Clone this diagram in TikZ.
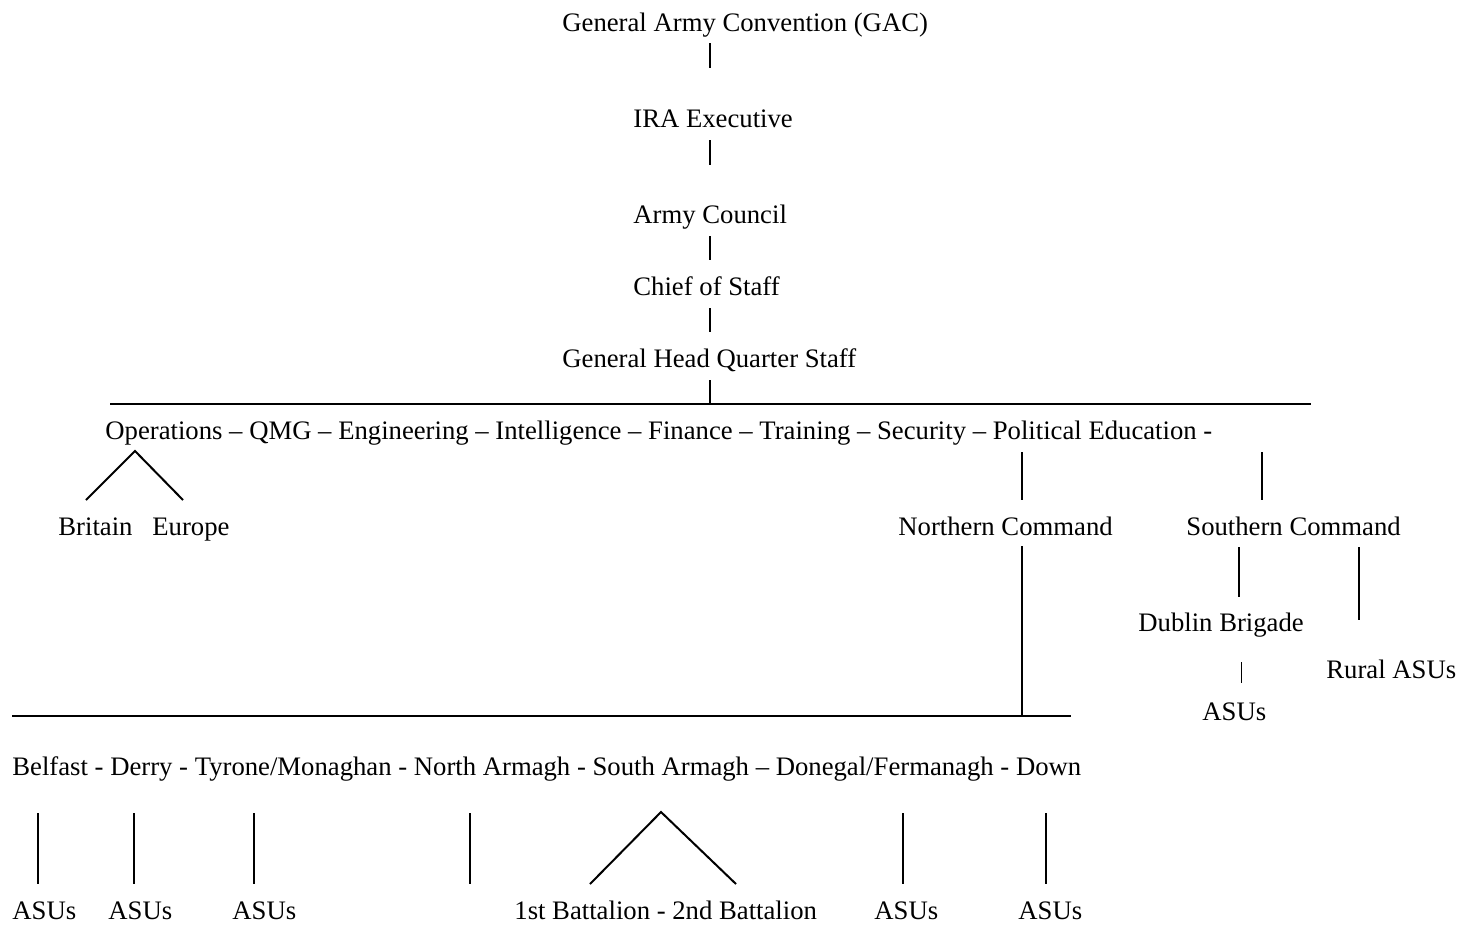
\documentclass[tikz,border=0pt]{standalone}
\usepackage{fontspec}
\setmainfont{Liberation Serif}
\begin{document}
\begin{tikzpicture}[x=0.5pt,y=-0.5pt,font=\fontsize{13.35}{16}\selectfont,
		lbl/.style={anchor=base west,inner sep=0pt},
		link/.style={line width=1pt},
		thinlink/.style={line width=0.5pt}]
			\useasboundingbox (0,0) rectangle (1461,927);
			% top of the chain
			\node[lbl] (gac) at (562,31) {General Army Convention (GAC)};
			\node[lbl] (exec) at (633,127) {IRA Executive};
			\node[lbl] (council) at (633,223) {Army Council};
			\node[lbl] (chief) at (633,295) {Chief of Staff};
			\node[lbl] (ghq) at (562,367) {General Head Quarter Staff};
			\node[lbl] (depts) at (105,439) {Operations -- QMG -- Engineering -- Intelligence -- Finance -- Training -- Security -- Political Education -};
			\node[lbl] (britain) at (58,535) {Britain};
			\node[lbl] (europe) at (152,535) {Europe};
			\node[lbl] (north) at (898,535) {Northern Command};
			\node[lbl] (south) at (1186,535) {Southern Command};
			\node[lbl] (dublin) at (1138,631) {Dublin Brigade};
			\node[lbl] (rural) at (1326,678) {Rural ASUs};
			\node[lbl] (dublinasu) at (1202,720) {ASUs};
			\node[lbl] (brigades) at (12,775) {Belfast - Derry - Tyrone/Monaghan - North Armagh - South Armagh -- Donegal/Fermanagh - Down};
			\node[lbl] (asuA) at (12,919) {ASUs};
			\node[lbl] (asuB) at (108,919) {ASUs};
			\node[lbl] (asuC) at (232,919) {ASUs};
			\node[lbl] (batt) at (514,919) {1st Battalion - 2nd Battalion};
			\node[lbl] (asuD) at (874,919) {ASUs};
			\node[lbl] (asuE) at (1018,919) {ASUs};
			% end points of the links
			\coordinate (G1) at (710,43);
			\coordinate (G2) at (710,68);
			\coordinate (E1) at (710,140);
			\coordinate (E2) at (710,165);
			\coordinate (C1) at (710,236);
			\coordinate (C2) at (710,260);
			\coordinate (S1) at (710,308);
			\coordinate (S2) at (710,332);
			\coordinate (H1) at (710,380);
			\coordinate (H2) at (710,404);
			\coordinate (RL) at (110,404);
			\coordinate (RR) at (1311,404);
			\coordinate (OP) at (135,451);
			\coordinate (OB) at (86,500);
			\coordinate (OE) at (183,500);
			\coordinate (N1) at (1022,452);
			\coordinate (N2) at (1022,500);
			\coordinate (Q1) at (1262,452);
			\coordinate (Q2) at (1262,500);
			\coordinate (N3) at (1022,546);
			\coordinate (N4) at (1022,716);
			\coordinate (BL) at (12,716);
			\coordinate (BR) at (1071,716);
			\coordinate (D1) at (1239,547);
			\coordinate (D2) at (1239,597);
			\coordinate (R1) at (1359,547);
			\coordinate (R2) at (1359,620);
			\coordinate (A1) at (1241,662);
			\coordinate (A2) at (1241,683);
			\coordinate (SA) at (661,812);
			\coordinate (SB) at (590,884);
			\coordinate (SC) at (736,884);
			\draw [link] (G1) to (G2);
			\draw [link] (E1) to (E2);
			\draw [link] (C1) to (C2);
			\draw [link] (S1) to (S2);
			\draw [link] (H1) to (H2);
			\draw [link] (RL) to (RR);
			\draw [link] (OB) to (OP) to (OE);
			\draw [link] (N1) to (N2);
			\draw [link] (Q1) to (Q2);
			\draw [link] (N3) to (N4);
			\draw [link] (BL) to (BR);
			\draw [link] (D1) to (D2);
			\draw [link] (R1) to (R2);
			\draw [thinlink] (A1) to (A2);
			\draw [link] (38,813) to (38,884);
			\draw [link] (134,813) to (134,884);
			\draw [link] (254,813) to (254,884);
			\draw [link] (470,813) to (470,884);
			\draw [link] (SB) to (SA) to (SC);
			\draw [link] (903,813) to (903,884);
			\draw [link] (1046,813) to (1046,884);
		\end{tikzpicture}
\end{document}
